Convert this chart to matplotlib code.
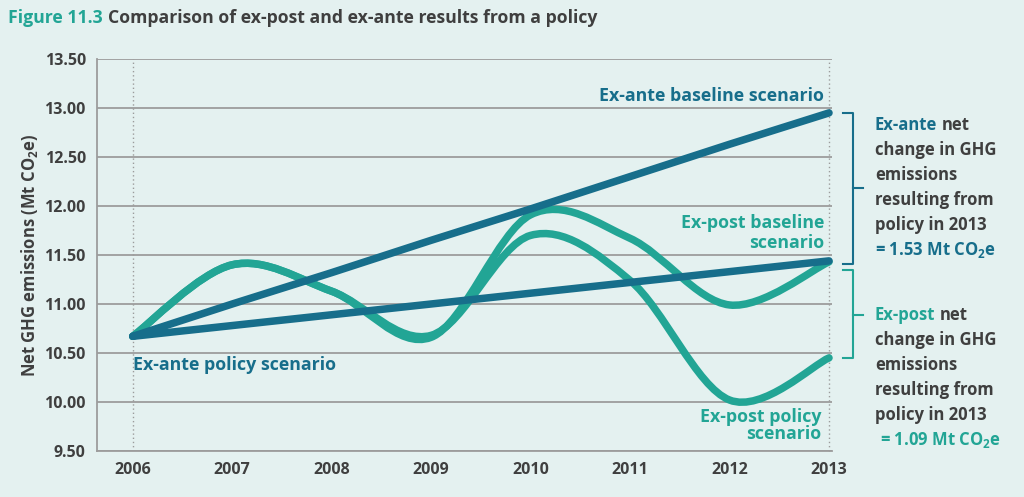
import matplotlib
matplotlib.use("Agg")
import matplotlib.pyplot as plt
from matplotlib.path import Path
from matplotlib.patches import PathPatch

# chart data
years = [2006, 2007, 2008, 2009, 2010, 2011, 2012, 2013]
exante_baseline = [10.67, 11.00, 11.32, 11.65, 11.97, 12.30, 12.63, 12.95]
exante_policy = [10.67, 10.78, 10.89, 11.00, 11.11, 11.22, 11.33, 11.44]
expost_baseline = [10.67, 11.40, 11.13, 10.66, 11.91, 11.67, 10.99, 11.43]
expost_policy = [10.67, 11.40, 11.13, 10.68, 11.70, 11.24, 10.02, 10.45]
yticks = [9.5, 10.0, 10.5, 11.0, 11.5, 12.0, 12.5, 13.0, 13.5]

BG = '#E4F1F0'
DARK = '#176E8B'
TEAL = '#22A595'
GREY = '#3F3F3F'
GRID = '#9C9C9C'

plt.rcParams['font.family'] = ['Open Sans', 'DejaVu Sans']
plt.rcParams['font.weight'] = 'bold'
plt.rcParams['axes.labelweight'] = 'bold'
plt.rcParams['mathtext.fontset'] = 'custom'
plt.rcParams['mathtext.rm'] = 'Open Sans:bold'
plt.rcParams['mathtext.bf'] = 'Open Sans:bold'
plt.rcParams['mathtext.it'] = 'Open Sans:bold'


def smooth_path(xs, ys):
    # Catmull-Rom through the points, expressed as cubic Bezier segments
    pts = list(zip(xs, ys))
    verts = [pts[0]]
    codes = [Path.MOVETO]
    n = len(pts)
    for i in range(n - 1):
        p0 = pts[i - 1] if i > 0 else pts[i]
        p1 = pts[i]
        p2 = pts[i + 1]
        p3 = pts[i + 2] if i + 2 < n else pts[i + 1]
        c1 = (p1[0] + (p2[0] - p0[0]) / 6, p1[1] + (p2[1] - p0[1]) / 6)
        c2 = (p2[0] - (p3[0] - p1[0]) / 6, p2[1] - (p3[1] - p1[1]) / 6)
        verts += [c1, c2, p2]
        codes += [Path.CURVE4] * 3
    return Path(verts, codes)


fig = plt.figure(figsize=(10.24, 4.97), dpi=100, facecolor=BG)
ax = fig.add_axes([0.0947, 0.0926, 0.7178, 0.7887], facecolor=BG)

ax.set_xlim(2005.64, 2013.03)
ax.set_ylim(9.5, 13.5)
ax.set_yticks(yticks)
ax.set_yticklabels([f'{v:.2f}' for v in yticks], fontsize=11.5, color=GREY)
ax.set_xticks(years)
ax.set_xticklabels([str(y) for y in years], fontsize=11.5, color=GREY)
ax.tick_params(length=0, pad=8)
ax.grid(axis='y', color=GRID, lw=1.3)
ax.set_axisbelow(True)
for s in ['top', 'right']:
    ax.spines[s].set_visible(False)
for s in ['left', 'bottom']:
    ax.spines[s].set_color(GRID)
    ax.spines[s].set_linewidth(1.3)
ax.axvline(2006, color=GRID, lw=1, ls=(0, (1, 2)))
ax.axvline(2013, color=GRID, lw=1, ls=(0, (1, 2)), clip_on=False)

for ys in [expost_baseline, expost_policy]:
    ax.add_patch(PathPatch(smooth_path(years, ys), fill=False, ec=TEAL, lw=5.4,
                           capstyle='round', joinstyle='round', clip_on=False, zorder=3))
for ys in [exante_baseline, exante_policy]:
    ax.plot(years, ys, color=DARK, lw=5.4, solid_capstyle='round', clip_on=False, zorder=4)

ax.set_ylabel('Net GHG emissions (Mt CO$_{2}$e)', fontsize=12, color=GREY, labelpad=6)
ax.yaxis.set_label_coords(-0.078, 0.5)

# line labels
lf = 12.8
ax.text(2012.95, 13.12, 'Ex-ante baseline scenario', color=DARK, fontsize=lf, ha='right', va='center')
ax.text(2006.0, 10.38, 'Ex-ante policy scenario', color=DARK, fontsize=lf, ha='left', va='center')
ax.text(2012.95, 11.83, 'Ex-post baseline', color=TEAL, fontsize=lf, ha='right', va='center')
ax.text(2012.95, 11.62, 'scenario', color=TEAL, fontsize=lf, ha='right', va='center')
ax.text(2012.92, 9.85, 'Ex-post policy', color=TEAL, fontsize=lf, ha='right', va='center')
ax.text(2012.92, 9.67, 'scenario', color=TEAL, fontsize=lf, ha='right', va='center')

# title
t1 = fig.text(8 / 1024, 1 - 18 / 497, 'Figure 11.3', color=TEAL, fontsize=12.7, va='center')
fig.canvas.draw()
r = fig.canvas.get_renderer()
bb = t1.get_window_extent(r)
fig.text((bb.x1 + 5) / 1024, 1 - 18 / 497, 'Comparison of ex-post and ex-ante results from a policy',
         color=GREY, fontsize=12.7, va='center')


# brackets on the right
def bracket(y0, y1, ymid, color):
    xs = 853 / 1024
    xl = 843 / 1024
    xr = 863 / 1024
    yt = 1 - y0 / 497
    yb = 1 - y1 / 497
    ym = 1 - ymid / 497
    fig.add_artist(plt.Line2D([xl, xs, xs, xl], [yt, yt, yb, yb], color=color, lw=1.5))
    fig.add_artist(plt.Line2D([xs, xr], [ym, ym], color=color, lw=1.5))


bracket(113, 264, 188, DARK)
bracket(270, 358, 315, TEAL)


def note_block(ytop, head, color, result, rx):
    x0 = 875 / 1024
    y = 1 - ytop / 497
    h = fig.text(x0, y, head, color=color, fontsize=12, va='center')
    bb = h.get_window_extent(r)
    fig.text((bb.x1 + 4) / 1024, y, 'net', color=GREY, fontsize=12, va='center')
    lines = ['change in GHG', 'emissions', 'resulting from', 'policy in 2013']
    for i, s in enumerate(lines):
        fig.text(x0, 1 - (ytop + 25 * (i + 1)) / 497, s, color=GREY, fontsize=12, va='center')
    fig.text(rx / 1024, 1 - (ytop + 125) / 497, result, color=color, fontsize=12, va='center')


note_block(125, 'Ex-ante', DARK, '= 1.53 Mt CO$_{2}$e', 875)
note_block(315, 'Ex-post', TEAL, '= 1.09 Mt CO$_{2}$e', 880)

fig.savefig('out.png', dpi=100, facecolor=BG)
